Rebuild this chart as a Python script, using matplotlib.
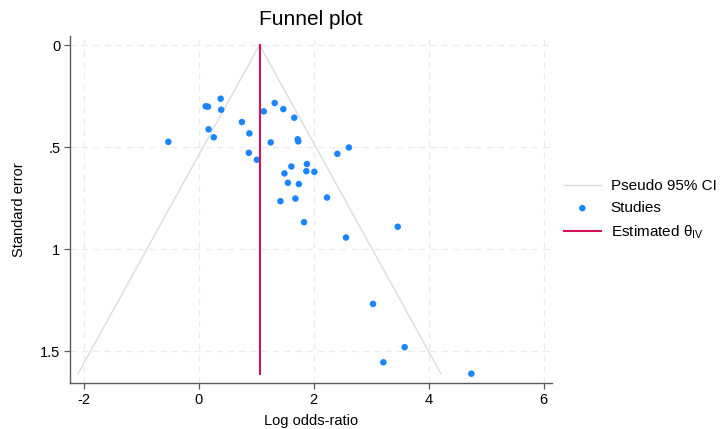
import matplotlib
matplotlib.use('Agg')
import matplotlib.pyplot as plt
import numpy as np

plt.rcParams['font.family'] = ['Liberation Sans', 'DejaVu Sans']
plt.rcParams['mathtext.fontset'] = 'custom'
plt.rcParams['mathtext.rm'] = 'Liberation Sans'

# ─── данные: log odds-ratio и стандартная ошибка ───────────────────────────
log_or = [-0.53, 0.38, 0.12, 0.16, 0.39, 0.75, 0.17, 0.26, 0.88, 0.87,
          1.01, 1.13, 1.32, 1.47, 1.66, 1.25, 1.72, 1.73, 2.61, 2.41,
          1.88, 1.61, 1.87, 2.01, 1.49, 1.55, 1.74, 1.42, 1.68, 2.23,
          1.83, 2.56, 3.46, 3.03, 3.58, 3.21, 4.74]
std_err = [0.474, 0.263, 0.300, 0.302, 0.317, 0.377, 0.413, 0.452, 0.433, 0.528,
           0.562, 0.325, 0.284, 0.314, 0.356, 0.477, 0.462, 0.472, 0.502, 0.533,
           0.583, 0.595, 0.618, 0.621, 0.629, 0.675, 0.681, 0.765, 0.752, 0.747,
           0.868, 0.943, 0.890, 1.268, 1.480, 1.554, 1.610]

theta_iv = 1.056      # оценка IV
se_max = 1.61
x_ticks = [-2, 0, 2, 4, 6]
y_ticks = [0, 0.5, 1, 1.5]
y_ticklabels = ['0', '.5', '1', '1.5']

c_pts = '#1a85ff'
c_line = '#d41159'
c_ci = '#dcdcdc'

fig = plt.figure(figsize=(7.24, 4.29), dpi=100, facecolor='white')
ax = fig.add_axes([0.0967, 0.1065, 0.6663, 0.8095])

# псевдо 95% ДИ
se_line = np.array([0.0, se_max])
ax.plot(theta_iv - 1.96 * se_line, se_line, color=c_ci, lw=1.0,
        label='Pseudo 95% CI', zorder=2)
ax.plot(theta_iv + 1.96 * se_line, se_line, color=c_ci, lw=1.0, zorder=2)

ax.scatter(log_or, std_err, s=22, color=c_pts, edgecolors='none',
           label='Studies', zorder=3)

ax.plot([theta_iv, theta_iv], [0, se_max], color=c_line, lw=1.5,
        label='Estimated θ$_{\\mathrm{IV}}$', zorder=4)

ax.set_xlim(-2.24, 6.15)
ax.set_ylim(1.657, -0.044)
ax.set_xticks(x_ticks)
ax.set_xticklabels([str(t) for t in x_ticks])
ax.set_yticks(y_ticks)
ax.set_yticklabels(y_ticklabels)

ax.grid(True, color='#ebebeb', lw=0.9, ls=(0, (5, 4)), zorder=0)
for s in ['top', 'right']:
    ax.spines[s].set_visible(False)
for s in ['left', 'bottom']:
    ax.spines[s].set_color('#5a5a5a')
    ax.spines[s].set_linewidth(1.0)
ax.tick_params(axis='both', direction='out', length=4, width=0.9,
               color='#5a5a5a', labelsize=10.5, pad=3)

ax.set_xlabel('Log odds-ratio', fontsize=10.5, labelpad=5)
ax.set_ylabel('Standard error', fontsize=10.5, labelpad=10)
ax.set_title('Funnel plot', fontsize=15, pad=8)

leg = fig.legend(loc='center left', bbox_to_anchor=(564 / 724, 1 - 210 / 429),
                 frameon=False, fontsize=11, handlelength=2.4,
                 labelspacing=0.52, handletextpad=0.65, borderpad=0,
                 borderaxespad=0)

plt.savefig('out.png', dpi=100, facecolor='white')
